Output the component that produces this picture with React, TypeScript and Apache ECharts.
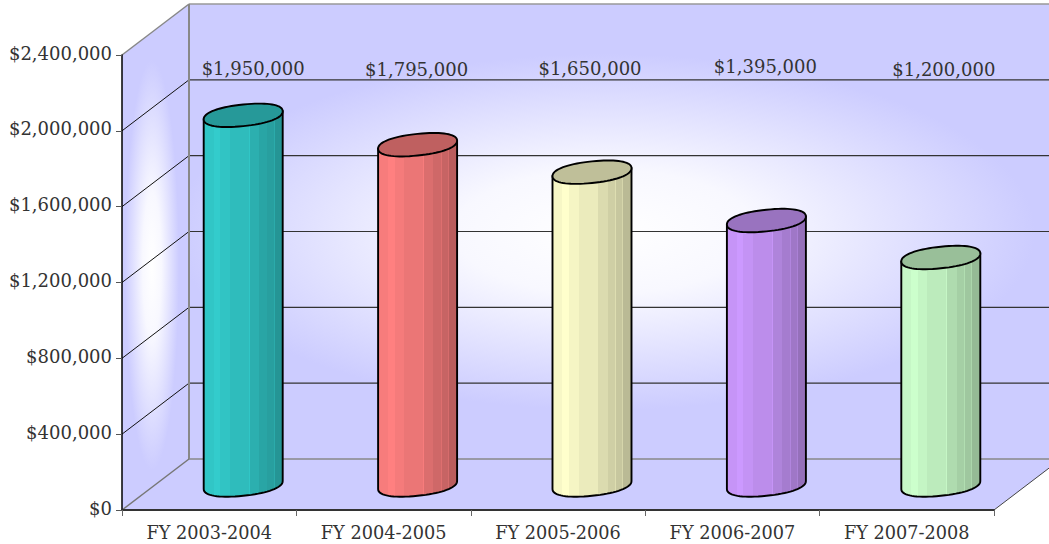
import React, { useEffect, useRef } from "react";
import * as echarts from "echarts";

const categories = ["FY 2003-2004", "FY 2004-2005", "FY 2005-2006", "FY 2006-2007", "FY 2007-2008"];
const budget = [1950000, 1795000, 1650000, 1395000, 1200000];
const barColors = ["#33cccc", "#ff8080", "#ffffcc", "#cc99ff", "#ccffcc"];
const axisMax = 2400000;
const axisStep = 400000;
const gridValues = [400000, 800000, 1200000, 1600000, 2000000, 2400000];

// Label placement relative to the bar centre, in pixels.
const labelShiftX = [10, -1, -2, -1, 3];
const labelShiftY = [0, 1, 0, -2, 1];

const FONT = '"DejaVu Serif", serif';
const WIDTH = 1049;
const HEIGHT = 544;
const DEPTH_X = 67;
const DEPTH_Y = 51;
const WALL_STOPS = [
  { offset: 0, color: "#ffffff" },
  { offset: 0.35, color: "#f8f8ff" },
  { offset: 1, color: "#ccccff" },
];

// Lit stripes across the cylinder body: [end of band, brightness].
const BANDS: [number, number][] = [
  [0.125, 0.97],
  [0.21, 1],
  [0.33, 0.96],
  [0.57, 0.92],
  [0.582, 0.97],
  [0.7, 0.86],
  [0.795, 0.81],
  [0.807, 0.87],
  [0.885, 0.78],
  [0.897, 0.84],
  [1, 0.73],
];

const money = (v: number) => "$" + v.toLocaleString("en-US");

function shade(hex: string, k: number) {
  const n = parseInt(hex.slice(1), 16);
  const c = [(n >> 16) & 255, (n >> 8) & 255, n & 255].map((x) => Math.round(x * k));
  return `rgb(${c[0]},${c[1]},${c[2]})`;
}

function bandStops(color: string) {
  const stops: { offset: number; color: string }[] = [];
  let start = 0;
  for (const [end, k] of BANDS) {
    stops.push({ offset: start, color: shade(color, k) });
    stops.push({ offset: end, color: shade(color, k) });
    start = end;
  }
  return stops;
}

// A polygon filled with an elliptical glow: the shape is drawn squashed in
// local space and stretched back, which stretches the circular gradient too.
function glowPolygon(points: number[][], cx: number, cy: number, rx: number, ry: number) {
  const sy = ry / rx;
  return {
    type: "polygon",
    scaleY: sy,
    shape: { points: points.map(([x, y]) => [x, y / sy]) },
    style: {
      fill: { type: "radial", x: cx, y: cy / sy, r: rx, global: true, colorStops: WALL_STOPS },
    },
  };
}

function line(x1: number, y1: number, x2: number, y2: number, stroke: string, lineWidth: number) {
  return { type: "line", shape: { x1, y1, x2, y2 }, style: { stroke, lineWidth } };
}

// Floor, side wall, back wall and the gridlines wrapped around them.
function renderWalls(params: any, api: any) {
  const sys = params.coordSys;
  const left = sys.x;
  const right = sys.x + sys.width;
  const y0 = api.coord([0, 0])[1];
  const yTop = api.coord([0, axisMax])[1];
  const bx = left + DEPTH_X;
  const children: any[] = [
    {
      type: "polygon",
      shape: { points: [[left, y0], [right, y0], [right + DEPTH_X, y0 - DEPTH_Y], [bx, y0 - DEPTH_Y]] },
      style: { fill: "#ccccff" },
    },
    glowPolygon(
      [[left, y0], [bx, y0 - DEPTH_Y], [bx, yTop - DEPTH_Y], [left, yTop]],
      152, 265, 27, 205,
    ),
    glowPolygon(
      [[bx, y0 - DEPTH_Y], [right + DEPTH_X, y0 - DEPTH_Y], [right + DEPTH_X, yTop - DEPTH_Y], [bx, yTop - DEPTH_Y]],
      605, 232, 430, 178,
    ),
  ];
  for (const v of gridValues) {
    const y = api.coord([0, v])[1];
    if (v === axisMax) continue;
    children.push(line(left, y, bx, y - DEPTH_Y, "#111", 1));
    children.push(line(bx, y - DEPTH_Y, right + DEPTH_X, y - DEPTH_Y, "#333", 1.2));
  }
  children.push(line(bx, y0 - DEPTH_Y, right + DEPTH_X, y0 - DEPTH_Y, "#888", 1.5));
  children.push(line(bx, yTop - DEPTH_Y, right + DEPTH_X, yTop - DEPTH_Y, "#999", 1.5));
  children.push(line(bx, y0 - DEPTH_Y, bx, yTop - DEPTH_Y, "#888", 2));
  children.push(line(left, y0, bx, y0 - DEPTH_Y, "#777", 1.5));
  children.push(line(left, yTop, bx, yTop - DEPTH_Y, "#888", 1.5));
  children.push(line(right, y0, right + DEPTH_X, y0 - DEPTH_Y, "#444", 1));
  return { type: "group", children };
}

// Rounded-off power keeps the rim fuller at its ends than a true ellipse.
const soft = (c: number) => Math.sign(c) * Math.pow(Math.abs(c), 0.9);

// One cylinder standing halfway into the depth of the chart, with its label.
function renderCylinder(params: any, api: any) {
  const i = api.value(0);
  const value = api.value(1);
  const top = api.coord([i, value]);
  const base = api.coord([i, 0]);
  const cx = top[0] + 34;
  const a = 39.5;
  const b = 10.8;
  const tilt = 4;
  const topY = top[1] - 25;
  const baseY = base[1] - 25;
  const rim = (cy: number, t: number) => {
    const cu = soft(Math.cos(t));
    return [cx + a * cu, cy - tilt * cu - b * soft(Math.sin(t))];
  };
  const cap: number[][] = [];
  const lower: number[][] = [];
  for (let k = 0; k < 72; k++) cap.push(rim(topY, (k / 72) * 2 * Math.PI));
  for (let k = 0; k <= 36; k++) lower.push(rim(baseY, Math.PI + (k / 36) * Math.PI));
  const color = barColors[i];
  const body = [rim(topY, Math.PI), ...lower, rim(topY, 0)];
  return {
    type: "group",
    children: [
      {
        type: "polygon",
        shape: { points: body },
        style: {
          fill: { type: "linear", x: 0, y: 0, x2: 1, y2: 0, colorStops: bandStops(color) },
          stroke: "#000",
          lineWidth: 1.9,
        },
      },
      {
        type: "polygon",
        shape: { points: cap },
        style: { fill: shade(color, 0.75), stroke: "#000", lineWidth: 1.9 },
      },
      {
        type: "text",
        x: cx + labelShiftX[i],
        y: api.coord([i, axisMax])[1] + 13 + labelShiftY[i],
        style: {
          text: money(value),
          font: `18px ${FONT}`,
          fill: "#333",
          align: "center",
          verticalAlign: "middle",
        },
      },
    ],
  };
}

export default function App() {
  const ref = useRef<HTMLDivElement>(null);

  useEffect(() => {
    document.body.style.margin = "0";
    const chart = echarts.init(ref.current!, undefined, { renderer: "svg" });
    chart.setOption({
      animation: false,
      backgroundColor: "#ffffff",
      grid: { left: 122, right: WIDTH - 994, top: 55, bottom: HEIGHT - 510, containLabel: false },
      xAxis: {
        type: "category",
        data: categories,
        axisLine: { lineStyle: { color: "#333", width: 2 } },
        axisTick: { show: true, length: 6, alignWithLabel: false, lineStyle: { color: "#666", width: 1 } },
        axisLabel: { fontFamily: FONT, fontSize: 17.7, color: "#333", margin: 14, interval: 0 },
        splitLine: { show: false },
      },
      yAxis: {
        type: "value",
        min: 0,
        max: axisMax,
        interval: axisStep,
        axisLine: { show: true, lineStyle: { color: "#000", width: 1.5 } },
        axisTick: { show: true, length: 6, lineStyle: { color: "#555", width: 1 } },
        axisLabel: {
          margin: 10,
          formatter: (v: number) => `{v|${money(v)}}`,
          rich: {
            v: { fontFamily: FONT, fontSize: 18, color: "#333", padding: [0, 0, 4, 0] },
          },
        },
        splitLine: { show: false },
      },
      series: [
        { type: "custom", z: -1, silent: true, clip: false, renderItem: renderWalls, data: [[0, 0]] },
        {
          type: "custom",
          z: 5,
          clip: false,
          renderItem: renderCylinder,
          encode: { x: 0, y: 1 },
          data: budget.map((v, i) => [i, v]),
        },
      ],
    });
    return () => chart.dispose();
  }, []);

  return <div ref={ref} style={{ width: WIDTH, height: HEIGHT, position: "fixed", left: 0, top: 0 }} />;
}
